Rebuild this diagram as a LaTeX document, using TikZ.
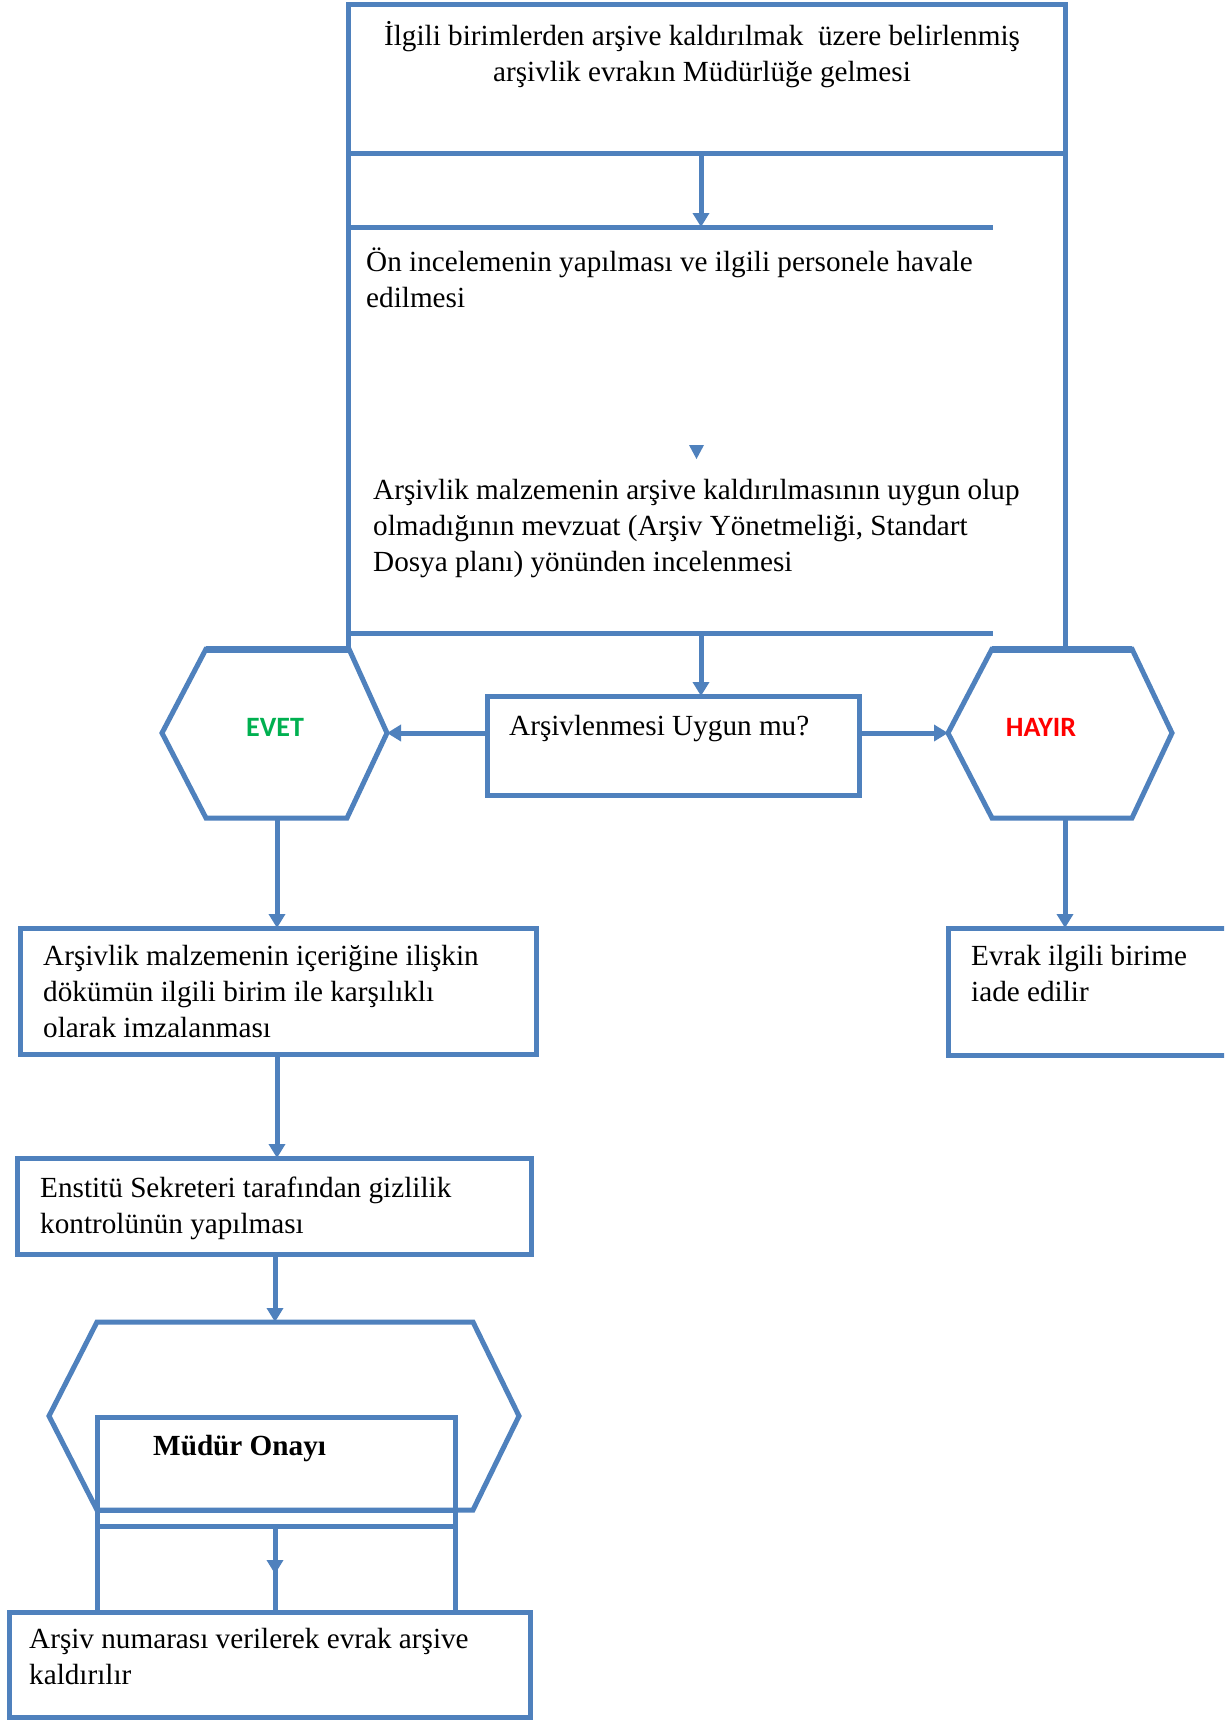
\documentclass[tikz,border=0pt]{standalone}
\usepackage{fontspec}
\setmainfont{Liberation Serif}
\newfontfamily\etiketfont{Carlito}
\usetikzlibrary{arrows.meta}
\definecolor{mavi}{HTML}{4F81BD}
\definecolor{yesil}{HTML}{00B050}
\definecolor{kirmizi}{HTML}{FF0000}

\begin{document}
\begin{tikzpicture}[x=1pt,y=-1pt,
  cizgi/.style={draw=mavi, line width=5pt},
  kutu/.style={cizgi, rectangle, inner sep=0pt, outer sep=0pt, anchor=north west},
  ok/.style={draw=mavi, line width=5pt, -{Triangle[length=14pt,width=16pt]}},
  ucgen/.style={fill=mavi},
  % multi-line texts are placed by the baseline of their last line
  metin/.style={font=\fontsize{29.2}{36}\selectfont, inner sep=0pt, align=left, anchor=base west},
  etiket/.style={font=\etiketfont\bfseries\fontsize{28}{32}\selectfont, inner sep=0pt}
]
\clip (0,0) rectangle (1224,1721);
\fill[white] (0,0) rectangle (1224,1721);

% --- upper block: arrival of documents and first review
\node[kutu, minimum width=717pt, minimum height=149pt] (giris) at (348,4) {};
\node[metin, align=center, anchor=base] (t-giris) at (702,81)
  {İlgili birimlerden arşive kaldırılmak\ \ üzere belirlenmiş\\arşivlik evrakın Müdürlüğe gelmesi};

\coordinate (sol-ust) at (348,153);
\coordinate (sol-alt) at (348,649);
\coordinate (sag-ust) at (1065,153);
\coordinate (sag-alt) at (1065,649);
\coordinate (cizgi1-s) at (348,227);
\coordinate (cizgi1-e) at (993,227);
\coordinate (cizgi2-s) at (348,633);
\coordinate (cizgi2-e) at (993,633);
\draw[cizgi] (sol-ust) -- (sol-alt);
\draw[cizgi] (sag-ust) -- (sag-alt);
\draw[cizgi] (cizgi1-s) -- (cizgi1-e);
\draw[cizgi] (cizgi2-s) -- (cizgi2-e);

\coordinate (ok1) at (701,227);
\draw[ok] (giris.south -| ok1) -- (ok1);

\node[metin] (t-on) at (366,307)
  {Ön incelemenin yapılması ve ilgili personele havale\\edilmesi};
\fill[ucgen] (689,445) -- (704,445) -- (696.5,459) -- cycle;
\node[metin] (t-mevzuat) at (373,571)
  {Arşivlik malzemenin arşive kaldırılmasının uygun olup\\olmadığının mevzuat (Arşiv Yönetmeliği, Standart\\Dosya planı) yönünden incelenmesi};

% --- decision
\node[kutu, minimum width=372pt, minimum height=99pt] (karar) at (487,696) {};
\node[metin] (t-karar) at (509,735) {Arşivlenmesi Uygun mu?};
\coordinate (ok2) at (701,633);
\draw[ok] (ok2) -- (karar.north -| ok2);

% EVET hexagon
\coordinate (e1) at (162,733);
\coordinate (e2) at (206,649);
\coordinate (e3) at (349,649);
\coordinate (e4) at (387,733);
\coordinate (e5) at (347,818);
\coordinate (e6) at (206,818);
\draw[cizgi, line join=miter] (e1) -- (e2) -- (e3) -- (e4) -- (e5) -- (e6) -- cycle;
\draw[mavi, line width=7pt] (e2) -- (e3);
\node[etiket, text=yesil] (evet) at (275,727) {EVET};

% HAYIR hexagon
\coordinate (h1) at (948,733);
\coordinate (h2) at (992,649);
\coordinate (h3) at (1132,649);
\coordinate (h4) at (1172,733);
\coordinate (h5) at (1132,818);
\coordinate (h6) at (992,818);
\draw[cizgi, line join=miter] (h1) -- (h2) -- (h3) -- (h4) -- (h5) -- (h6) -- cycle;
\draw[mavi, line width=7pt] (h2) -- (h3);
\node[etiket, text=kirmizi] (hayir) at (1041,727) {HAYIR};

\draw[ok] (karar.west |- e4) -- (e4);
\draw[ok] (karar.east |- h1) -- (h1);

% --- HAYIR branch
\node[kutu, minimum width=320pt, minimum height=127pt] (iade) at (948,928) {};
\node[metin] (t-iade) at (971,1001) {Evrak ilgili birime\\iade edilir};
\coordinate (h-alt) at (1065,818);
\draw[ok] (h-alt) -- (iade.north -| h-alt);

% --- EVET branch
\node[kutu, minimum width=516pt, minimum height=126pt] (dokum) at (20,928) {};
\node[metin] (t-dokum) at (43,1037)
  {Arşivlik malzemenin içeriğine ilişkin\\dökümün ilgili birim ile karşılıklı\\olarak imzalanması};
\coordinate (e-alt) at (277,818);
\draw[ok] (e-alt) -- (dokum.north -| e-alt);

\node[kutu, minimum width=514pt, minimum height=96pt] (gizlilik) at (17,1158) {};
\node[metin] (t-gizlilik) at (40,1233)
  {Enstitü Sekreteri tarafından gizlilik\\kontrolünün yapılması};
\coordinate (ok3) at (277,1054);
\draw[ok] (ok3) -- (gizlilik.north -| ok3);

% Müdür approval hexagon with inner box
\coordinate (m1) at (49,1416);
\coordinate (m2) at (97,1322);
\coordinate (m3) at (473,1322);
\coordinate (m4) at (519,1416);
\coordinate (m5) at (473,1510);
\coordinate (m6) at (97,1510);
\draw[cizgi, line join=miter] (m1) -- (m2) -- (m3) -- (m4) -- (m5) -- (m6) -- cycle;
\coordinate (ok4) at (275,1322);
\draw[ok] (gizlilik.south -| ok4) -- (ok4);

\node[kutu, minimum width=358pt, minimum height=93pt] (onay) at (97,1417) {};
\node[metin, font=\bfseries\fontsize{29.2}{36}\selectfont] (t-onay) at (153,1455) {Müdür Onayı};

\node[kutu, minimum width=521pt, minimum height=105pt] (arsiv) at (9,1612) {};
\node[metin] (t-arsiv) at (29,1684)
  {Arşiv numarası verilerek evrak arşive\\kaldırılır};

\coordinate (alt-s) at (97,1526);
\coordinate (alt-e) at (455,1526);
\draw[cizgi] (alt-s) -- (alt-e);
\draw[cizgi] (onay.south west) -- (arsiv.north -| onay.south west);
\draw[cizgi] (onay.south east) -- (arsiv.north -| onay.south east);
\coordinate (ok5) at (275,1526);
\coordinate (ok5-uc) at (275,1574);
\draw[cizgi] (ok5) -- (arsiv.north -| ok5);
\draw[ok] (ok5) -- (ok5-uc);
\end{tikzpicture}
\end{document}
